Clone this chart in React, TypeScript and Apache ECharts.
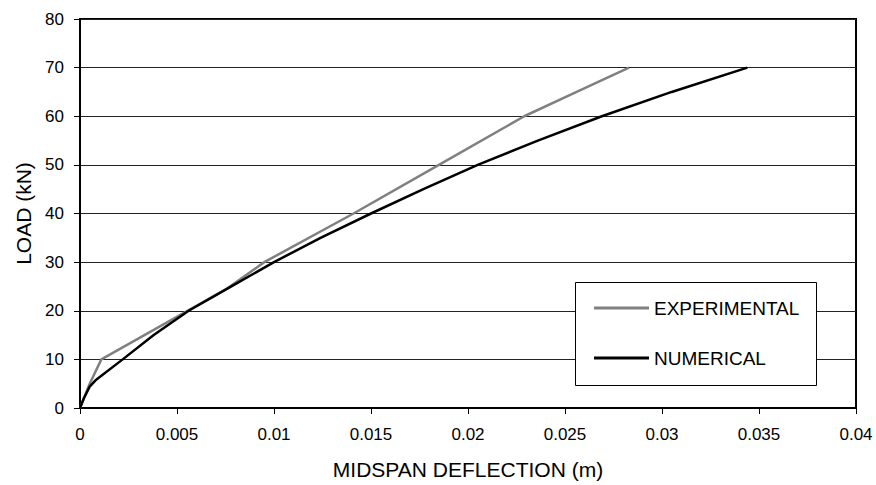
import React, { useEffect, useRef } from "react";
import * as echarts from "echarts";

const experimental: [number, number][] = [
  [0, 0], [0.0005, 5], [0.0011, 10], [0.0076, 24.6], [0.0095, 30],
  [0.0141, 40], [0.0185, 50], [0.0229, 60], [0.0256, 65], [0.0283, 70],
];
const numerical: [number, number][] = [
  [0, 0], [0.0002, 2], [0.0005, 4.4], [0.0008, 5.7], [0.0022, 10],
  [0.0038, 15], [0.0056, 20], [0.0078, 25], [0.01, 30], [0.0124, 35],
  [0.015, 40], [0.0177, 45], [0.0205, 50], [0.0236, 55], [0.0269, 60],
  [0.0305, 65], [0.0344, 70],
];
const seriesNames = ["EXPERIMENTAL", "NUMERICAL"];
const xTitle = "MIDSPAN DEFLECTION (m)";
const yTitle = "LOAD (kN)";

const FONT = "Arial, 'Liberation Sans', sans-serif";

export default function App() {
  const ref = useRef<HTMLDivElement>(null);
  useEffect(() => {
    if (!ref.current) return;
    const chart = echarts.init(ref.current, undefined, { renderer: "svg" });
    chart.setOption({
      animation: false,
      backgroundColor: "#fff",
      textStyle: { fontFamily: FONT, color: "#000" },
      grid: {
        left: 80, right: 20, top: 19, bottom: 76,
        show: true, borderColor: "#000", borderWidth: 2,
      },
      xAxis: {
        type: "value", min: 0, max: 0.04, interval: 0.005,
        name: xTitle, nameLocation: "middle", nameGap: 51,
        nameTextStyle: { fontSize: 21, color: "#000", fontFamily: FONT },
        axisLine: { show: true, lineStyle: { color: "#000", width: 2 } },
        axisTick: { show: true, length: 6, lineStyle: { color: "#000", width: 1 } },
        axisLabel: { fontSize: 17, color: "#000", margin: 18, fontFamily: FONT },
        splitLine: { show: false },
      },
      yAxis: {
        type: "value", min: 0, max: 80, interval: 10,
        name: yTitle, nameLocation: "middle", nameGap: 45, nameRotate: 90,
        nameTextStyle: { fontSize: 21, color: "#000", fontFamily: FONT },
        axisLine: { show: true, lineStyle: { color: "#000", width: 2 } },
        axisTick: { show: true, length: 6, lineStyle: { color: "#000", width: 1 } },
        axisLabel: { fontSize: 17, color: "#000", margin: 16, fontFamily: FONT },
        splitLine: { show: true, lineStyle: { color: "#222", width: 1 } },
      },
      legend: {
        orient: "vertical", left: 575, top: 282,
        padding: [16, 18, 17, 19], itemGap: 30,
        itemWidth: 55, itemHeight: 3, icon: "rect",
        data: seriesNames,
        textStyle: { fontSize: 19, color: "#000", fontFamily: FONT, lineHeight: 20 },
        z: 10,
      },
      graphic: [
        {
          type: "rect", left: 575, top: 282, z: 5,
          shape: { width: 241, height: 103 },
          style: { fill: "#fff", stroke: "#000", lineWidth: 1 },
        },
      ],
      series: [
        {
          name: seriesNames[0], type: "line", data: experimental,
          symbol: "none", lineStyle: { color: "#808080", width: 2.5 },
          itemStyle: { color: "#808080" }, z: 2,
        },
        {
          name: seriesNames[1], type: "line", data: numerical,
          symbol: "none", lineStyle: { color: "#000", width: 2.5 },
          itemStyle: { color: "#000" }, z: 3,
        },
      ],
    });
    return () => chart.dispose();
  }, []);
  return (
    <div
      ref={ref}
      style={{ position: "fixed", left: 0, top: 0, width: 876, height: 485 }}
    />
  );
}
